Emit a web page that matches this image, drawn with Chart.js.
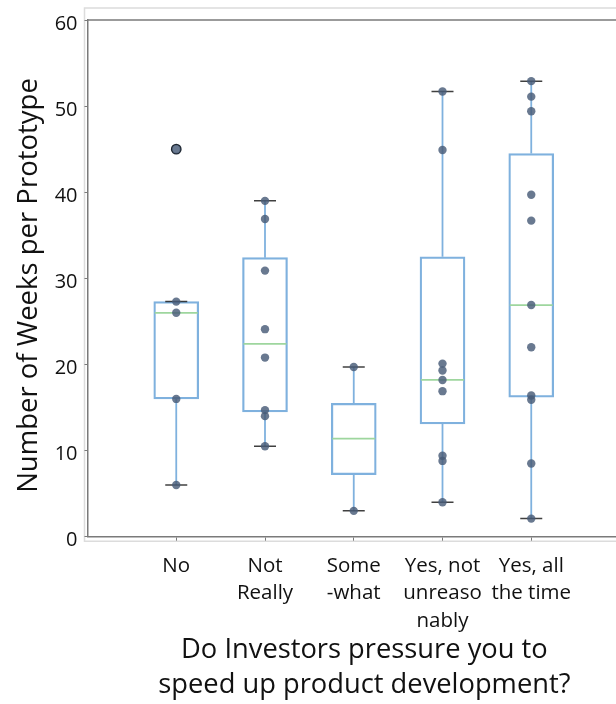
<!DOCTYPE html>
<html>
<head>
<meta charset="utf-8">
<script src="https://cdn.jsdelivr.net/npm/chart.js@4/dist/chart.umd.min.js"></script>
<style>
  html, body { margin: 0; padding: 0; background: #fff; overflow: hidden; }
  #chart { display: block; }
</style>
</head>
<body>
<canvas id="chart" width="620" height="704"></canvas>
<script>
// Survey answers (x categories)
const categories = [
  ['No'],
  ['Not', 'Really'],
  ['Some', '-what'],
  ['Yes, not', 'unreaso', 'nably'],
  ['Yes, all', 'the time']
];

// Box statistics per answer (weeks per prototype)
const q1 = [16.0, 14.5, 7.2, 13.1, 16.2];
const medians = [26.0, 22.4, 11.4, 18.2, 26.9];
const q3 = [27.3, 32.4, 15.5, 32.5, 44.5];
const whiskerLow = [6.0, 10.5, 3.0, 4.0, 2.1];
const whiskerHigh = [27.3, 39.0, 19.7, 51.7, 52.9];

// Values beyond the whiskers
const outliers = [[45.0], [], [], [], []];

// Individual responses
const responses = [
  [45.0, 27.3, 26.0, 16.0, 6.0],
  [39.0, 36.9, 30.9, 24.1, 20.8, 14.7, 14.0, 10.5],
  [19.7, 3.0],
  [51.7, 44.9, 20.1, 19.3, 18.2, 16.9, 9.4, 8.8, 4.0],
  [52.9, 51.1, 49.4, 39.7, 36.7, 26.9, 22.0, 16.4, 15.9, 8.5, 2.1]
];

const yTicks = [0, 10, 20, 30, 40, 50, 60];

// leading no-break spaces nudge the centred title a little to the right
const xTitle = ['\u00A0\u00A0\u00A0Do Investors pressure you to', '\u00A0\u00A0\u00A0speed up product development?'];
const yTitle = 'Number of Weeks per Prototype\u00A0\u00A0';

// ---- derived datasets ----
const boxData = categories.map((c, i) => ({ x: i + 1, y: [q1[i], q3[i]] }));
const medianData = categories.map((c, i) => ({ x: i + 1, y: medians[i] }));
const capData = [];
categories.forEach((c, i) => {
  capData.push({ x: i + 1, y: whiskerLow[i] });
  capData.push({ x: i + 1, y: whiskerHigh[i] });
});
const whiskerData = [];
categories.forEach((c, i) => {
  whiskerData.push({ x: i + 1, y: q3[i] }, { x: i + 1, y: whiskerHigh[i] }, { x: i + 1, y: null });
  whiskerData.push({ x: i + 1, y: q1[i] }, { x: i + 1, y: whiskerLow[i] }, { x: i + 1, y: null });
});
const outlierData = [];
outliers.forEach((vals, i) => vals.forEach(v => outlierData.push({ x: i + 1, y: v })));
const pointData = [];
responses.forEach((vals, i) => vals.forEach(v => pointData.push({ x: i + 1, y: v })));

const FONT = "'Open Sans', sans-serif";
const AXIS = '#7a7a7a';

// light outer frame plus the top spine of the plot
const framePlugin = {
  id: 'frame',
  beforeDraw(chart) {
    const { ctx, chartArea: a } = chart;
    ctx.save();
    ctx.strokeStyle = '#dcdcdc';
    ctx.lineWidth = 1.5;
    ctx.beginPath();
    ctx.moveTo(chart.width, a.top - 12);
    ctx.lineTo(a.left - 3, a.top - 12);
    ctx.lineTo(a.left - 3, a.bottom + 4.5);
    ctx.lineTo(chart.width, a.bottom + 4.5);
    ctx.stroke();
    ctx.restore();
  },
  afterDraw(chart) {
    const { ctx, chartArea: a } = chart;
    ctx.save();
    ctx.strokeStyle = AXIS;
    ctx.lineWidth = 1.5;
    ctx.beginPath();
    ctx.moveTo(a.left, a.top);
    ctx.lineTo(chart.width, a.top);
    ctx.stroke();
    ctx.restore();
  }
};

new Chart(document.getElementById('chart'), {
  type: 'bar',
  data: {
    datasets: [
      {
        type: 'scatter',
        data: pointData,
        pointRadius: 4.2,
        pointBackgroundColor: 'rgba(72, 92, 120, 0.82)',
        pointBorderWidth: 0,
        order: 0
      },
      {
        type: 'scatter',
        data: outlierData,
        pointRadius: 4.5,
        pointBackgroundColor: 'rgba(0,0,0,0)',
        pointBorderColor: '#1e2630',
        pointBorderWidth: 1.8,
        order: 1
      },
      {
        type: 'scatter',
        data: capData,
        pointStyle: 'line',
        pointRadius: 11,
        pointBorderColor: 'rgba(30, 30, 30, 0.85)',
        pointBorderWidth: 1.5,
        order: 2
      },
      {
        type: 'scatter',
        data: medianData,
        pointStyle: 'line',
        pointRadius: 21.5,
        pointBorderColor: '#9ed69e',
        pointBorderWidth: 1.8,
        order: 3
      },
      {
        type: 'line',
        data: whiskerData,
        borderColor: '#7fb1de',
        borderWidth: 1.8,
        pointRadius: 0,
        spanGaps: false,
        fill: false,
        order: 4
      },
      {
        type: 'bar',
        data: boxData,
        backgroundColor: 'rgba(255,255,255,0)',
        borderColor: '#7fb1de',
        borderWidth: 1.6,
        borderSkipped: false,
        barThickness: 45,
        order: 5
      }
    ]
  },
  options: {
    responsive: false,
    animation: false,
    events: [],
    layout: { autoPadding: false, padding: { top: 20, left: 0, right: 0, bottom: 0 } },
    plugins: { legend: { display: false }, tooltip: { enabled: false } },
    scales: {
      x: {
        type: 'linear',
        offset: false,
        min: 0,
        max: categories.length + 1,
        afterBuildTicks: s => { s.ticks = categories.map((c, i) => ({ value: i + 1 })); },
        afterFit: s => { s.height = 167.3; s.paddingLeft = 0; s.paddingRight = 0; },
        grid: { drawOnChartArea: false, offset: false, tickLength: 4, color: AXIS, tickWidth: 1 },
        border: { color: AXIS, width: 1.5 },
        ticks: {
          autoSkip: false,
          maxRotation: 0,
          padding: 12,
          color: '#111',
          font: { family: FONT, size: 20.5, lineHeight: 1.33 },
          callback: v => categories[v - 1] || ''
        },
        title: {
          display: true,
          text: xTitle,
          color: '#111',
          padding: { top: 0, bottom: 1 },
          font: { family: FONT, size: 27.3, lineHeight: 1.3 }
        }
      },
      y: {
        min: 0,
        max: 60,
        afterBuildTicks: s => { s.ticks = yTicks.map(v => ({ value: v })); },
        afterFit: s => { s.width = 87.5; },
        grid: { drawOnChartArea: false, tickLength: 3, color: AXIS, tickWidth: 1 },
        border: { color: AXIS, width: 1.5 },
        ticks: {
          padding: 7,
          labelOffset: 4,
          color: '#111',
          font: { family: FONT, size: 20 }
        },
        title: {
          display: true,
          text: yTitle,
          color: '#111',
          padding: { top: 13, bottom: 0 },
          font: { family: FONT, size: 27.5, lineHeight: 1.2 }
        }
      }
    }
  },
  plugins: [framePlugin]
});
</script>
</body>
</html>
